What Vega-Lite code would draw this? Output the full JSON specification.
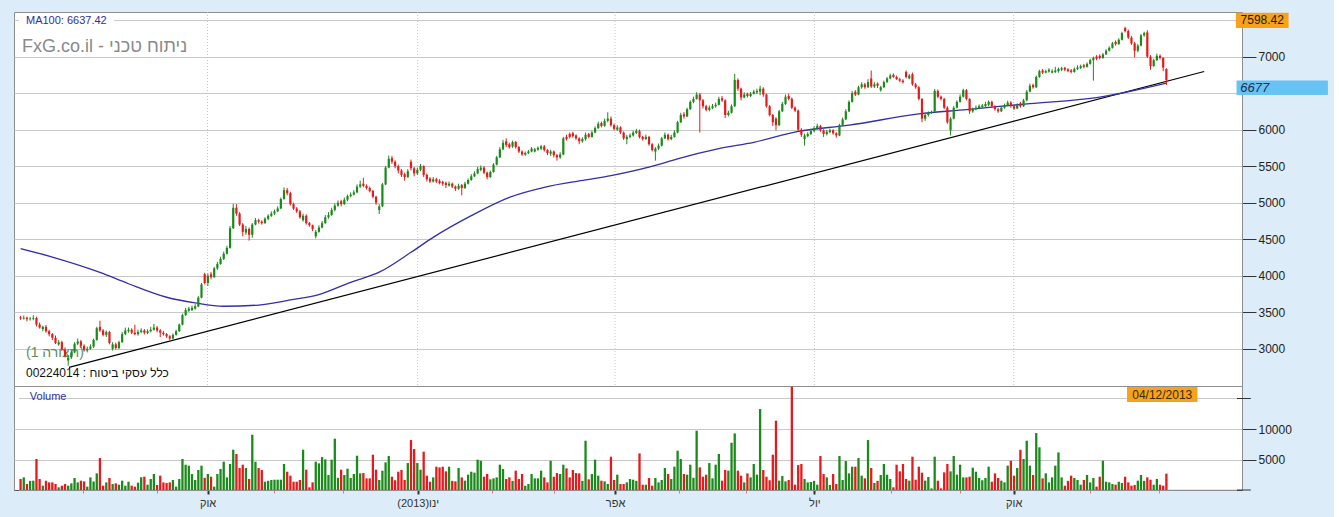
{
"$schema":"https://vega.github.io/schema/vega-lite/v6.json",
"background":"#dcedf9",
"padding":{"left":13,"top":11,"right":5,"bottom":8},
"spacing":0,
"bounds":"flush",
"config":{"view":{"fill":"#ffffff","stroke":"#8e8e8e","strokeWidth":1},"font":"Liberation Sans"},
"datasets":{
"bars":[
{"i":0,"o":3430,"h":3450,"l":3395,"c":3415,"v":1800},
{"i":1,"o":3415,"h":3455,"l":3400,"c":3425,"v":2070},
{"i":2,"o":3425,"h":3440,"l":3375,"c":3405,"v":980},
{"i":3,"o":3405,"h":3435,"l":3385,"c":3410,"v":1500},
{"i":4,"o":3410,"h":3460,"l":3390,"c":3420,"v":1530},
{"i":5,"o":3420,"h":3440,"l":3305,"c":3330,"v":5080},
{"i":6,"o":3330,"h":3360,"l":3275,"c":3290,"v":1800},
{"i":7,"o":3270,"h":3315,"l":3240,"c":3300,"v":710},
{"i":8,"o":3300,"h":3325,"l":3220,"c":3240,"v":1530},
{"i":9,"o":3240,"h":3260,"l":3170,"c":3200,"v":1250},
{"i":10,"o":3200,"h":3215,"l":3120,"c":3150,"v":1250},
{"i":11,"o":3150,"h":3180,"l":3065,"c":3080,"v":980},
{"i":12,"o":3060,"h":3120,"l":3040,"c":3090,"v":440},
{"i":13,"o":3090,"h":3110,"l":2970,"c":2990,"v":710},
{"i":14,"o":2990,"h":3020,"l":2880,"c":2900,"v":980},
{"i":15,"o":2840,"h":2910,"l":2770,"c":2880,"v":710},
{"i":16,"o":2880,"h":2975,"l":2860,"c":2950,"v":1090},
{"i":17,"o":2950,"h":3090,"l":2940,"c":3070,"v":1970},
{"i":18,"o":3070,"h":3140,"l":3050,"c":3100,"v":1250},
{"i":19,"o":3100,"h":3120,"l":3010,"c":3040,"v":1530},
{"i":20,"o":3040,"h":3060,"l":2960,"c":2980,"v":1420},
{"i":21,"o":2975,"h":3030,"l":2950,"c":3000,"v":550},
{"i":22,"o":3000,"h":3060,"l":2985,"c":3030,"v":2070},
{"i":23,"o":3030,"h":3140,"l":3010,"c":3120,"v":1400},
{"i":24,"o":3120,"h":3300,"l":3110,"c":3280,"v":2730},
{"i":25,"o":3300,"h":3384,"l":3230,"c":3250,"v":5240},
{"i":26,"o":3250,"h":3270,"l":3170,"c":3190,"v":710},
{"i":27,"o":3190,"h":3250,"l":3160,"c":3230,"v":1250},
{"i":28,"o":3230,"h":3245,"l":3060,"c":3080,"v":1970},
{"i":29,"o":3000,"h":3090,"l":2975,"c":3060,"v":980},
{"i":30,"o":3060,"h":3085,"l":2990,"c":3010,"v":1090},
{"i":31,"o":3010,"h":3110,"l":2995,"c":3090,"v":870},
{"i":32,"o":3090,"h":3230,"l":3080,"c":3200,"v":1530},
{"i":33,"o":3200,"h":3290,"l":3185,"c":3250,"v":710},
{"i":34,"o":3240,"h":3290,"l":3220,"c":3260,"v":1360},
{"i":35,"o":3260,"h":3280,"l":3200,"c":3220,"v":710},
{"i":36,"o":3220,"h":3330,"l":3185,"c":3200,"v":550},
{"i":37,"o":3200,"h":3260,"l":3180,"c":3230,"v":1200},
{"i":38,"o":3230,"h":3280,"l":3215,"c":3250,"v":2070},
{"i":39,"o":3250,"h":3270,"l":3195,"c":3220,"v":2180},
{"i":40,"o":3215,"h":3265,"l":3200,"c":3240,"v":870},
{"i":41,"o":3240,"h":3300,"l":3225,"c":3260,"v":1800},
{"i":42,"o":3260,"h":3340,"l":3250,"c":3290,"v":2620},
{"i":43,"o":3290,"h":3310,"l":3225,"c":3250,"v":820},
{"i":44,"o":3250,"h":3270,"l":3160,"c":3220,"v":2350},
{"i":45,"o":3220,"h":3245,"l":3180,"c":3200,"v":1250},
{"i":46,"o":3200,"h":3215,"l":3150,"c":3170,"v":1150},
{"i":47,"o":3170,"h":3185,"l":3120,"c":3140,"v":1250},
{"i":48,"o":3140,"h":3210,"l":3130,"c":3190,"v":1640},
{"i":49,"o":3190,"h":3260,"l":3180,"c":3240,"v":550},
{"i":50,"o":3240,"h":3345,"l":3230,"c":3330,"v":1800},
{"i":51,"o":3330,"h":3480,"l":3320,"c":3460,"v":5080},
{"i":52,"o":3460,"h":3560,"l":3450,"c":3530,"v":4150},
{"i":53,"o":3520,"h":3575,"l":3505,"c":3550,"v":3990},
{"i":54,"o":3530,"h":3590,"l":3515,"c":3560,"v":2620},
{"i":55,"o":3550,"h":3610,"l":3535,"c":3580,"v":1640},
{"i":56,"o":3580,"h":3720,"l":3570,"c":3700,"v":3280},
{"i":57,"o":3700,"h":3900,"l":3690,"c":3880,"v":3990},
{"i":58,"o":4020,"h":4040,"l":3880,"c":3900,"v":2000},
{"i":59,"o":3900,"h":4030,"l":3860,"c":4000,"v":2620},
{"i":60,"o":4020,"h":4050,"l":3950,"c":3980,"v":2180},
{"i":61,"o":3980,"h":4120,"l":3970,"c":4100,"v":550},
{"i":62,"o":4100,"h":4190,"l":4080,"c":4160,"v":2620},
{"i":63,"o":4160,"h":4260,"l":4150,"c":4230,"v":3440},
{"i":64,"o":4230,"h":4330,"l":4215,"c":4300,"v":4640},
{"i":65,"o":4300,"h":4410,"l":4290,"c":4380,"v":2070},
{"i":66,"o":4380,"h":4680,"l":4370,"c":4650,"v":4260},
{"i":67,"o":4650,"h":4985,"l":4640,"c":4930,"v":6600},
{"i":68,"o":4930,"h":4980,"l":4820,"c":4850,"v":5900},
{"i":69,"o":4850,"h":4870,"l":4680,"c":4700,"v":3600},
{"i":70,"o":4700,"h":4720,"l":4540,"c":4600,"v":4150},
{"i":71,"o":4590,"h":4680,"l":4560,"c":4640,"v":3600},
{"i":72,"o":4640,"h":4660,"l":4480,"c":4560,"v":1800},
{"i":73,"o":4560,"h":4720,"l":4520,"c":4700,"v":9060},
{"i":74,"o":4700,"h":4790,"l":4690,"c":4760,"v":4640},
{"i":75,"o":4760,"h":4780,"l":4715,"c":4740,"v":3600},
{"i":76,"o":4740,"h":4760,"l":4700,"c":4720,"v":3280},
{"i":77,"o":4720,"h":4800,"l":4710,"c":4780,"v":1360},
{"i":78,"o":4780,"h":4840,"l":4760,"c":4820,"v":1500},
{"i":79,"o":4820,"h":4880,"l":4805,"c":4850,"v":1640},
{"i":80,"o":4850,"h":4905,"l":4830,"c":4880,"v":1690},
{"i":81,"o":4880,"h":4950,"l":4870,"c":4920,"v":1690},
{"i":82,"o":4920,"h":5070,"l":4910,"c":5050,"v":1690},
{"i":83,"o":5050,"h":5210,"l":5040,"c":5170,"v":4260},
{"i":84,"o":5170,"h":5200,"l":5100,"c":5130,"v":3000},
{"i":85,"o":5130,"h":5150,"l":4960,"c":4980,"v":2350},
{"i":86,"o":4980,"h":5000,"l":4900,"c":4920,"v":1360},
{"i":87,"o":4920,"h":4940,"l":4860,"c":4880,"v":1360},
{"i":88,"o":4880,"h":4900,"l":4780,"c":4800,"v":1640},
{"i":89,"o":4760,"h":4850,"l":4740,"c":4820,"v":6600},
{"i":90,"o":4820,"h":4840,"l":4700,"c":4720,"v":3330},
{"i":91,"o":4720,"h":4735,"l":4670,"c":4690,"v":440},
{"i":92,"o":4690,"h":4700,"l":4610,"c":4640,"v":1250},
{"i":93,"o":4540,"h":4625,"l":4510,"c":4600,"v":4640},
{"i":94,"o":4600,"h":4690,"l":4590,"c":4660,"v":4370},
{"i":95,"o":4660,"h":4750,"l":4650,"c":4720,"v":5400},
{"i":96,"o":4720,"h":4830,"l":4710,"c":4800,"v":5020},
{"i":97,"o":4800,"h":4870,"l":4780,"c":4830,"v":2460},
{"i":98,"o":4830,"h":4930,"l":4820,"c":4900,"v":4970},
{"i":99,"o":4900,"h":4990,"l":4880,"c":4960,"v":8410},
{"i":100,"o":4960,"h":5030,"l":4945,"c":5000,"v":2000},
{"i":101,"o":5020,"h":5040,"l":4950,"c":4980,"v":3330},
{"i":102,"o":4980,"h":5070,"l":4970,"c":5040,"v":2460},
{"i":103,"o":5040,"h":5110,"l":5020,"c":5090,"v":3490},
{"i":104,"o":5090,"h":5140,"l":5075,"c":5110,"v":1970},
{"i":105,"o":5110,"h":5170,"l":5100,"c":5140,"v":2620},
{"i":106,"o":5140,"h":5250,"l":5130,"c":5220,"v":5620},
{"i":107,"o":5220,"h":5300,"l":5200,"c":5250,"v":2730},
{"i":108,"o":5260,"h":5340,"l":5210,"c":5230,"v":2780},
{"i":109,"o":5230,"h":5250,"l":5180,"c":5200,"v":1910},
{"i":110,"o":5200,"h":5220,"l":5140,"c":5160,"v":1910},
{"i":111,"o":5160,"h":5175,"l":5060,"c":5080,"v":5790},
{"i":112,"o":5080,"h":5095,"l":4970,"c":5000,"v":3330},
{"i":113,"o":4900,"h":4980,"l":4845,"c":4950,"v":1640},
{"i":114,"o":4950,"h":5270,"l":4940,"c":5250,"v":3170},
{"i":115,"o":5250,"h":5500,"l":5240,"c":5480,"v":4530},
{"i":116,"o":5480,"h":5645,"l":5470,"c":5600,"v":5570},
{"i":117,"o":5610,"h":5640,"l":5530,"c":5560,"v":2180},
{"i":118,"o":5560,"h":5580,"l":5470,"c":5500,"v":1600},
{"i":119,"o":5500,"h":5520,"l":5400,"c":5440,"v":3000},
{"i":120,"o":5440,"h":5460,"l":5350,"c":5380,"v":3280},
{"i":121,"o":5390,"h":5410,"l":5300,"c":5350,"v":1640},
{"i":122,"o":5350,"h":5460,"l":5340,"c":5430,"v":4420},
{"i":123,"o":5560,"h":5590,"l":5440,"c":5470,"v":8190},
{"i":124,"o":5470,"h":5490,"l":5360,"c":5400,"v":6720},
{"i":125,"o":5400,"h":5480,"l":5380,"c":5450,"v":4420},
{"i":126,"o":5450,"h":5530,"l":5430,"c":5500,"v":3330},
{"i":127,"o":5500,"h":5510,"l":5350,"c":5380,"v":6280},
{"i":128,"o":5380,"h":5400,"l":5290,"c":5320,"v":2350},
{"i":129,"o":5330,"h":5350,"l":5270,"c":5290,"v":1360},
{"i":130,"o":5290,"h":5350,"l":5275,"c":5320,"v":2070},
{"i":131,"o":5320,"h":5340,"l":5270,"c":5290,"v":3820},
{"i":132,"o":5300,"h":5320,"l":5250,"c":5270,"v":3710},
{"i":133,"o":5285,"h":5300,"l":5230,"c":5260,"v":3820},
{"i":134,"o":5270,"h":5290,"l":5200,"c":5240,"v":3060},
{"i":135,"o":5235,"h":5290,"l":5220,"c":5260,"v":3820},
{"i":136,"o":5260,"h":5275,"l":5200,"c":5220,"v":1500},
{"i":137,"o":5220,"h":5235,"l":5160,"c":5190,"v":1420},
{"i":138,"o":5190,"h":5260,"l":5175,"c":5230,"v":3600},
{"i":139,"o":5240,"h":5255,"l":5100,"c":5200,"v":2070},
{"i":140,"o":5200,"h":5285,"l":5190,"c":5260,"v":1530},
{"i":141,"o":5260,"h":5330,"l":5250,"c":5310,"v":2510},
{"i":142,"o":5310,"h":5390,"l":5300,"c":5360,"v":3000},
{"i":143,"o":5360,"h":5430,"l":5350,"c":5400,"v":2840},
{"i":144,"o":5400,"h":5490,"l":5390,"c":5460,"v":4970},
{"i":145,"o":5450,"h":5510,"l":5430,"c":5480,"v":4800},
{"i":146,"o":5480,"h":5500,"l":5390,"c":5410,"v":2180},
{"i":147,"o":5410,"h":5425,"l":5320,"c":5350,"v":2620},
{"i":148,"o":5350,"h":5440,"l":5340,"c":5420,"v":1750},
{"i":149,"o":5420,"h":5540,"l":5410,"c":5520,"v":1910},
{"i":150,"o":5520,"h":5640,"l":5510,"c":5620,"v":2070},
{"i":151,"o":5620,"h":5760,"l":5610,"c":5730,"v":4150},
{"i":152,"o":5730,"h":5860,"l":5720,"c":5820,"v":3440},
{"i":153,"o":5840,"h":5880,"l":5760,"c":5790,"v":1800},
{"i":154,"o":5800,"h":5820,"l":5740,"c":5760,"v":2070},
{"i":155,"o":5770,"h":5850,"l":5750,"c":5830,"v":1500},
{"i":156,"o":5830,"h":5845,"l":5740,"c":5760,"v":3170},
{"i":157,"o":5760,"h":5775,"l":5680,"c":5700,"v":1800},
{"i":158,"o":5700,"h":5715,"l":5640,"c":5660,"v":2620},
{"i":159,"o":5660,"h":5700,"l":5640,"c":5680,"v":710},
{"i":160,"o":5680,"h":5720,"l":5665,"c":5700,"v":980},
{"i":161,"o":5700,"h":5760,"l":5690,"c":5740,"v":2620},
{"i":162,"o":5700,"h":5750,"l":5690,"c":5730,"v":1910},
{"i":163,"o":5725,"h":5770,"l":5710,"c":5750,"v":1910},
{"i":164,"o":5740,"h":5790,"l":5720,"c":5770,"v":3170},
{"i":165,"o":5770,"h":5790,"l":5700,"c":5720,"v":2070},
{"i":166,"o":5720,"h":5735,"l":5650,"c":5680,"v":1250},
{"i":167,"o":5670,"h":5725,"l":5640,"c":5700,"v":4800},
{"i":168,"o":5700,"h":5715,"l":5620,"c":5650,"v":2180},
{"i":169,"o":5650,"h":5665,"l":5575,"c":5620,"v":2780},
{"i":170,"o":5620,"h":5690,"l":5600,"c":5660,"v":2620},
{"i":171,"o":5660,"h":5900,"l":5650,"c":5880,"v":4150},
{"i":172,"o":5900,"h":5930,"l":5850,"c":5870,"v":3550},
{"i":173,"o":5940,"h":5960,"l":5880,"c":5900,"v":2070},
{"i":174,"o":5950,"h":5970,"l":5890,"c":5910,"v":3280},
{"i":175,"o":5920,"h":5935,"l":5860,"c":5880,"v":2780},
{"i":176,"o":5880,"h":5895,"l":5800,"c":5840,"v":2730},
{"i":177,"o":5840,"h":5895,"l":5820,"c":5870,"v":1500},
{"i":178,"o":5870,"h":5960,"l":5850,"c":5930,"v":8080},
{"i":179,"o":5940,"h":5955,"l":5880,"c":5900,"v":1750},
{"i":180,"o":5900,"h":5985,"l":5890,"c":5960,"v":2620},
{"i":181,"o":5960,"h":6045,"l":5950,"c":6020,"v":4970},
{"i":182,"o":6020,"h":6110,"l":6010,"c":6080,"v":2350},
{"i":183,"o":6090,"h":6110,"l":6030,"c":6050,"v":1530},
{"i":184,"o":6050,"h":6150,"l":6040,"c":6120,"v":1420},
{"i":185,"o":6120,"h":6237,"l":6100,"c":6150,"v":980},
{"i":186,"o":6150,"h":6180,"l":6040,"c":6060,"v":5460},
{"i":187,"o":6060,"h":6080,"l":5990,"c":6010,"v":1640},
{"i":188,"o":6000,"h":6060,"l":5985,"c":6030,"v":2510},
{"i":189,"o":6030,"h":6045,"l":5940,"c":5960,"v":980},
{"i":190,"o":5960,"h":5975,"l":5860,"c":5880,"v":980},
{"i":191,"o":5870,"h":5925,"l":5800,"c":5900,"v":1250},
{"i":192,"o":5900,"h":5945,"l":5880,"c":5920,"v":1800},
{"i":193,"o":5920,"h":5985,"l":5905,"c":5960,"v":1690},
{"i":194,"o":5955,"h":6010,"l":5940,"c":5980,"v":1500},
{"i":195,"o":5980,"h":6000,"l":5880,"c":5900,"v":6000},
{"i":196,"o":5900,"h":5915,"l":5850,"c":5870,"v":870},
{"i":197,"o":5870,"h":5930,"l":5860,"c":5900,"v":870},
{"i":198,"o":5900,"h":5915,"l":5780,"c":5800,"v":1970},
{"i":199,"o":5800,"h":5815,"l":5700,"c":5720,"v":710},
{"i":200,"o":5700,"h":5760,"l":5575,"c":5740,"v":1970},
{"i":201,"o":5740,"h":5810,"l":5720,"c":5780,"v":1250},
{"i":202,"o":5780,"h":5900,"l":5770,"c":5880,"v":1640},
{"i":203,"o":5880,"h":5960,"l":5870,"c":5930,"v":3600},
{"i":204,"o":5930,"h":5945,"l":5850,"c":5870,"v":2620},
{"i":205,"o":5870,"h":5930,"l":5855,"c":5900,"v":1800},
{"i":206,"o":5900,"h":5990,"l":5890,"c":5960,"v":3820},
{"i":207,"o":5960,"h":6120,"l":5950,"c":6100,"v":6440},
{"i":208,"o":6100,"h":6230,"l":6090,"c":6200,"v":5080},
{"i":209,"o":6210,"h":6240,"l":6150,"c":6180,"v":2620},
{"i":210,"o":6180,"h":6300,"l":6170,"c":6280,"v":2510},
{"i":211,"o":6280,"h":6400,"l":6270,"c":6380,"v":4150},
{"i":212,"o":6380,"h":6450,"l":6360,"c":6420,"v":2000},
{"i":213,"o":6420,"h":6511,"l":6410,"c":6480,"v":9720},
{"i":214,"o":6480,"h":6500,"l":5960,"c":6400,"v":3710},
{"i":215,"o":6400,"h":6420,"l":6290,"c":6320,"v":2180},
{"i":216,"o":6320,"h":6340,"l":6250,"c":6270,"v":2510},
{"i":217,"o":6270,"h":6330,"l":6250,"c":6300,"v":4420},
{"i":218,"o":6295,"h":6350,"l":6280,"c":6320,"v":1910},
{"i":219,"o":6320,"h":6370,"l":6300,"c":6340,"v":4150},
{"i":220,"o":6340,"h":6450,"l":6330,"c":6420,"v":5900},
{"i":221,"o":6430,"h":6460,"l":6380,"c":6400,"v":1530},
{"i":222,"o":6400,"h":6415,"l":6160,"c":6200,"v":3280},
{"i":223,"o":6200,"h":6260,"l":6180,"c":6230,"v":3170},
{"i":224,"o":6230,"h":6345,"l":6220,"c":6320,"v":7750},
{"i":225,"o":6320,"h":6763,"l":6310,"c":6680,"v":9280},
{"i":226,"o":6680,"h":6700,"l":6530,"c":6560,"v":3170},
{"i":227,"o":6560,"h":6575,"l":6400,"c":6440,"v":2350},
{"i":228,"o":6440,"h":6510,"l":6430,"c":6480,"v":1250},
{"i":229,"o":6490,"h":6505,"l":6440,"c":6460,"v":2730},
{"i":230,"o":6460,"h":6515,"l":6445,"c":6490,"v":2070},
{"i":231,"o":6490,"h":6545,"l":6480,"c":6520,"v":4260},
{"i":232,"o":6510,"h":6560,"l":6490,"c":6530,"v":2510},
{"i":233,"o":6520,"h":6600,"l":6470,"c":6560,"v":13270},
{"i":234,"o":6560,"h":6580,"l":6450,"c":6480,"v":3280},
{"i":235,"o":6480,"h":6495,"l":6300,"c":6320,"v":2180},
{"i":236,"o":6320,"h":6335,"l":6180,"c":6200,"v":1600},
{"i":237,"o":6200,"h":6215,"l":6050,"c":6100,"v":5790},
{"i":238,"o":6150,"h":6170,"l":5990,"c":6060,"v":11360},
{"i":239,"o":6060,"h":6270,"l":6050,"c":6250,"v":1530},
{"i":240,"o":6250,"h":6380,"l":6240,"c":6350,"v":2290},
{"i":241,"o":6350,"h":6480,"l":6340,"c":6450,"v":1420},
{"i":242,"o":6460,"h":6490,"l":6400,"c":6420,"v":1640},
{"i":243,"o":6420,"h":6440,"l":6280,"c":6300,"v":16930},
{"i":244,"o":6300,"h":6320,"l":6240,"c":6260,"v":870},
{"i":245,"o":6260,"h":6275,"l":5980,"c":6000,"v":4100},
{"i":246,"o":6000,"h":6020,"l":5900,"c":5930,"v":4260},
{"i":247,"o":5870,"h":5945,"l":5781,"c":5920,"v":1800},
{"i":248,"o":5910,"h":5965,"l":5895,"c":5940,"v":1250},
{"i":249,"o":5940,"h":6010,"l":5925,"c":5980,"v":1310},
{"i":250,"o":5980,"h":6045,"l":5965,"c":6020,"v":1500},
{"i":251,"o":6020,"h":6080,"l":6000,"c":6050,"v":870},
{"i":252,"o":6050,"h":6065,"l":5970,"c":5990,"v":5570},
{"i":253,"o":5990,"h":6005,"l":5900,"c":5940,"v":2620},
{"i":254,"o":5940,"h":5995,"l":5920,"c":5970,"v":2070},
{"i":255,"o":5965,"h":6015,"l":5950,"c":5990,"v":820},
{"i":256,"o":5990,"h":6005,"l":5930,"c":5950,"v":2620},
{"i":257,"o":5950,"h":5965,"l":5890,"c":5920,"v":980},
{"i":258,"o":5920,"h":6080,"l":5910,"c":6060,"v":5570},
{"i":259,"o":6060,"h":6165,"l":6050,"c":6140,"v":1640},
{"i":260,"o":6140,"h":6280,"l":6130,"c":6250,"v":4750},
{"i":261,"o":6250,"h":6400,"l":6240,"c":6380,"v":2730},
{"i":262,"o":6380,"h":6530,"l":6370,"c":6500,"v":3820},
{"i":263,"o":6520,"h":6540,"l":6460,"c":6480,"v":3820},
{"i":264,"o":6480,"h":6600,"l":6470,"c":6580,"v":5240},
{"i":265,"o":6580,"h":6650,"l":6560,"c":6620,"v":2350},
{"i":266,"o":6620,"h":6640,"l":6560,"c":6580,"v":1910},
{"i":267,"o":6580,"h":6690,"l":6570,"c":6650,"v":8190},
{"i":268,"o":6700,"h":6808,"l":6570,"c":6590,"v":3600},
{"i":269,"o":6590,"h":6650,"l":6570,"c":6620,"v":1150},
{"i":270,"o":6630,"h":6645,"l":6570,"c":6600,"v":1500},
{"i":271,"o":6540,"h":6600,"l":6520,"c":6580,"v":2460},
{"i":272,"o":6580,"h":6670,"l":6570,"c":6650,"v":4260},
{"i":273,"o":6650,"h":6720,"l":6640,"c":6700,"v":2510},
{"i":274,"o":6700,"h":6765,"l":6690,"c":6740,"v":1800},
{"i":275,"o":6750,"h":6770,"l":6710,"c":6720,"v":440},
{"i":276,"o":6720,"h":6740,"l":6680,"c":6690,"v":4150},
{"i":277,"o":6690,"h":6710,"l":6650,"c":6670,"v":3060},
{"i":278,"o":6670,"h":6690,"l":6630,"c":6650,"v":4260},
{"i":279,"o":6790,"h":6810,"l":6700,"c":6720,"v":1800},
{"i":280,"o":6700,"h":6760,"l":6690,"c":6740,"v":1530},
{"i":281,"o":6760,"h":6780,"l":6600,"c":6620,"v":5460},
{"i":282,"o":6620,"h":6640,"l":6560,"c":6580,"v":1690},
{"i":283,"o":6580,"h":6595,"l":6400,"c":6420,"v":3820},
{"i":284,"o":6420,"h":6430,"l":6100,"c":6150,"v":2840},
{"i":285,"o":6150,"h":6230,"l":6120,"c":6200,"v":1530},
{"i":286,"o":6200,"h":6250,"l":6180,"c":6230,"v":2130},
{"i":287,"o":6230,"h":6260,"l":6215,"c":6240,"v":270},
{"i":288,"o":6250,"h":6557,"l":6240,"c":6530,"v":5460},
{"i":289,"o":6530,"h":6550,"l":6430,"c":6450,"v":1530},
{"i":290,"o":6450,"h":6465,"l":6400,"c":6420,"v":270},
{"i":291,"o":6420,"h":6435,"l":6280,"c":6300,"v":2890},
{"i":292,"o":6300,"h":6320,"l":6080,"c":6100,"v":4260},
{"i":293,"o":5990,"h":6170,"l":5920,"c":6150,"v":3060},
{"i":294,"o":6150,"h":6320,"l":6140,"c":6300,"v":5570},
{"i":295,"o":6300,"h":6400,"l":6290,"c":6380,"v":2510},
{"i":296,"o":6380,"h":6480,"l":6370,"c":6450,"v":4150},
{"i":297,"o":6450,"h":6560,"l":6440,"c":6540,"v":2070},
{"i":298,"o":6540,"h":6555,"l":6400,"c":6420,"v":2070},
{"i":299,"o":6420,"h":6430,"l":6215,"c":6250,"v":2180},
{"i":300,"o":6250,"h":6300,"l":6230,"c":6280,"v":3660},
{"i":301,"o":6280,"h":6330,"l":6265,"c":6300,"v":3000},
{"i":302,"o":6295,"h":6345,"l":6280,"c":6320,"v":1970},
{"i":303,"o":6310,"h":6350,"l":6290,"c":6330,"v":1600},
{"i":304,"o":6320,"h":6380,"l":6300,"c":6350,"v":1970},
{"i":305,"o":6340,"h":6400,"l":6320,"c":6380,"v":3820},
{"i":306,"o":6380,"h":6395,"l":6300,"c":6320,"v":1360},
{"i":307,"o":6320,"h":6335,"l":6260,"c":6280,"v":2730},
{"i":308,"o":6280,"h":6295,"l":6230,"c":6250,"v":1970},
{"i":309,"o":6250,"h":6325,"l":6240,"c":6300,"v":1530},
{"i":310,"o":6300,"h":6355,"l":6285,"c":6330,"v":1250},
{"i":311,"o":6330,"h":6395,"l":6320,"c":6370,"v":3990},
{"i":312,"o":6370,"h":6390,"l":6300,"c":6320,"v":4800},
{"i":313,"o":6320,"h":6340,"l":6270,"c":6290,"v":2350},
{"i":314,"o":6290,"h":6360,"l":6280,"c":6340,"v":3600},
{"i":315,"o":6360,"h":6380,"l":6300,"c":6320,"v":6600},
{"i":316,"o":6320,"h":6420,"l":6310,"c":6400,"v":5080},
{"i":317,"o":6400,"h":6540,"l":6390,"c":6520,"v":8080},
{"i":318,"o":6520,"h":6630,"l":6510,"c":6600,"v":3990},
{"i":319,"o":6610,"h":6630,"l":6560,"c":6580,"v":2460},
{"i":320,"o":6580,"h":6740,"l":6570,"c":6720,"v":9340},
{"i":321,"o":6720,"h":6820,"l":6710,"c":6800,"v":7000},
{"i":322,"o":6810,"h":6830,"l":6760,"c":6780,"v":1910},
{"i":323,"o":6780,"h":6820,"l":6770,"c":6800,"v":2730},
{"i":324,"o":6795,"h":6840,"l":6780,"c":6820,"v":1250},
{"i":325,"o":6780,"h":6825,"l":6770,"c":6800,"v":2070},
{"i":326,"o":6790,"h":6860,"l":6775,"c":6810,"v":3990},
{"i":327,"o":6800,"h":6850,"l":6780,"c":6830,"v":6170},
{"i":328,"o":6820,"h":6860,"l":6800,"c":6840,"v":2070},
{"i":329,"o":6845,"h":6860,"l":6800,"c":6820,"v":710},
{"i":330,"o":6825,"h":6840,"l":6785,"c":6800,"v":1500},
{"i":331,"o":6810,"h":6830,"l":6770,"c":6790,"v":2350},
{"i":332,"o":6790,"h":6850,"l":6780,"c":6830,"v":1970},
{"i":333,"o":6830,"h":6880,"l":6815,"c":6850,"v":1640},
{"i":334,"o":6845,"h":6890,"l":6830,"c":6870,"v":870},
{"i":335,"o":6880,"h":6900,"l":6840,"c":6860,"v":1640},
{"i":336,"o":6860,"h":6920,"l":6850,"c":6900,"v":2460},
{"i":337,"o":6900,"h":6970,"l":6890,"c":6950,"v":1250},
{"i":338,"o":6950,"h":7000,"l":6671,"c":6980,"v":1970},
{"i":339,"o":7000,"h":7020,"l":6950,"c":6970,"v":550},
{"i":340,"o":7010,"h":7030,"l":6960,"c":6980,"v":2180},
{"i":341,"o":6980,"h":7050,"l":6970,"c":7030,"v":4800},
{"i":342,"o":7030,"h":7100,"l":7020,"c":7080,"v":1360},
{"i":343,"o":7080,"h":7140,"l":7070,"c":7120,"v":1250},
{"i":344,"o":7120,"h":7200,"l":7110,"c":7180,"v":980},
{"i":345,"o":7200,"h":7220,"l":7150,"c":7170,"v":870},
{"i":346,"o":7170,"h":7250,"l":7160,"c":7230,"v":1360},
{"i":347,"o":7230,"h":7340,"l":7220,"c":7320,"v":1150},
{"i":348,"o":7390,"h":7410,"l":7330,"c":7350,"v":2180},
{"i":349,"o":7350,"h":7370,"l":7240,"c":7260,"v":1250},
{"i":350,"o":7260,"h":7280,"l":7160,"c":7180,"v":710},
{"i":351,"o":7180,"h":7200,"l":6990,"c":7080,"v":820},
{"i":352,"o":7080,"h":7170,"l":7060,"c":7150,"v":1530},
{"i":353,"o":7150,"h":7310,"l":7140,"c":7290,"v":2460},
{"i":354,"o":7290,"h":7340,"l":7270,"c":7320,"v":1500},
{"i":355,"o":7330,"h":7360,"l":6980,"c":7000,"v":2070},
{"i":356,"o":7000,"h":7020,"l":6820,"c":6870,"v":1690},
{"i":357,"o":6870,"h":6970,"l":6860,"c":6950,"v":870},
{"i":358,"o":6950,"h":7040,"l":6940,"c":7010,"v":1800},
{"i":359,"o":7010,"h":7030,"l":6960,"c":6980,"v":870},
{"i":360,"o":6980,"h":6990,"l":6800,"c":6850,"v":710},
{"i":361,"o":6830,"h":6840,"l":6610,"c":6677,"v":2680}
],
"ma":[
{"i":0,"ma":4370},{"i":10,"ma":4255},{"i":25,"ma":4045},{"i":34,"ma":3890},{"i":46,"ma":3705},{"i":55,"ma":3628},{"i":64,"ma":3582},{"i":75,"ma":3598},{"i":85,"ma":3668},{"i":94,"ma":3742},{"i":104,"ma":3910},{"i":113,"ma":4048},{"i":123,"ma":4320},{"i":130,"ma":4525},{"i":142,"ma":4822},{"i":154,"ma":5073},{"i":165,"ma":5210},{"i":178,"ma":5311},{"i":186,"ma":5370},{"i":202,"ma":5534},{"i":207,"ma":5600},{"i":220,"ma":5740},{"i":231,"ma":5826},{"i":245,"ma":5975},{"i":261,"ma":6060},{"i":283,"ma":6215},{"i":298,"ma":6274},{"i":318,"ma":6356},{"i":339,"ma":6438},{"i":361,"ma":6637}
],
"trend":[{"i":15.25,"p":2745},{"i":372.9,"p":6795}],
"quarters":[{"q":58.9},{"q":125.1},{"q":187.3},{"q":250.1},{"q":312.9}],
"vticks":[{"v":0},{"v":15000}]
},
"vconcat":[
{
"width":1228,"height":374,
"layer":[
{"data":{"name":"quarters"},
 "mark":{"type":"rule","color":"#c4c4c4","strokeWidth":1,"strokeDash":[1,2]},
 "encoding":{
  "x":{"field":"q","type":"quantitative","title":null,"scale":{"domain":[-0.5,383.25],"nice":false,"zero":false},"axis":null}}},
{"data":{"values":[{"x1":-0.5,"x2":29.5,"y1":7400,"y2":7575}]},
 "mark":{"type":"rect","fill":"#ffffff"},
 "encoding":{
  "x":{"field":"x1","type":"quantitative","title":null},
  "x2":{"field":"x2"},
  "y":{"field":"y1","type":"quantitative","title":null,"scale":{"domain":[2490,7610],"nice":false,"zero":false},
       "axis":{"orient":"right","values":[3000,3500,4000,4500,5000,5500,6000,6500,7000,7500],"format":"d","labelExpr":"datum.value == 7500 || datum.value == 6500 ? '' : datum.label","grid":true,"gridColor":"#c8c8c8","tickSize":14,"tickColor":"#333333","domainColor":"#8e8e8e","labelColor":"#222222","labelFontSize":12,"labelPadding":2,"title":null}},
  "y2":{"field":"y2"}}},
{"data":{"values":[{"x":0.45,"y":7137,"t":"FxG.co.il - ניתוח טכני"}]},
 "mark":{"type":"text","align":"left","baseline":"middle","fontSize":18,"fill":"#8a8a8a"},
 "encoding":{"x":{"field":"x","type":"quantitative","title":null},"y":{"field":"y","type":"quantitative","title":null},"text":{"field":"t"}}},
{"data":{"values":[{"x":1.7,"y":7493,"t":"MA100: 6637.42"}]},
 "mark":{"type":"text","align":"left","baseline":"middle","fontSize":11,"fill":"#2e2e9e"},
 "encoding":{"x":{"field":"x","type":"quantitative","title":null},"y":{"field":"y","type":"quantitative","title":null},"text":{"field":"t"}}},
{"data":{"values":[{"x":1.7,"y":2945,"t":"(1 תצורה)"}]},
 "mark":{"type":"text","align":"left","baseline":"middle","fontSize":14,"fill":"#5b8f5b"},
 "encoding":{"x":{"field":"x","type":"quantitative","title":null},"y":{"field":"y","type":"quantitative","title":null},"text":{"field":"t"}}},
{"data":{"values":[{"x":1.7,"y":2671,"t":"00224014 : כלל עסקי ביטוח"}]},
 "mark":{"type":"text","align":"left","baseline":"middle","fontSize":12,"fill":"#111111"},
 "encoding":{"x":{"field":"x","type":"quantitative","title":null},"y":{"field":"y","type":"quantitative","title":null},"text":{"field":"t"}}},
{"data":{"name":"trend"},
 "mark":{"type":"line","color":"#000000","strokeWidth":1.2},
 "encoding":{"x":{"field":"i","type":"quantitative","title":null},"y":{"field":"p","type":"quantitative","title":null}}},
{"data":{"name":"ma"},
 "mark":{"type":"line","color":"#3030a8","strokeWidth":1.3,"interpolate":"monotone"},
 "encoding":{"x":{"field":"i","type":"quantitative","title":null},"y":{"field":"ma","type":"quantitative","title":null}}},
{"data":{"name":"bars"},
 "mark":{"type":"rule","strokeWidth":1},
 "encoding":{"x":{"field":"i","type":"quantitative","title":null},"y":{"field":"l","type":"quantitative","title":null},"y2":{"field":"h"},
  "color":{"condition":{"test":"datum.c >= datum.o","value":"#1a8a1a"},"value":"#e8191b"}}},
{"data":{"name":"bars"},
 "mark":{"type":"bar","width":2.2},
 "encoding":{"x":{"field":"i","type":"quantitative","title":null},"y":{"field":"o","type":"quantitative","title":null},"y2":{"field":"c"},
  "color":{"condition":{"test":"datum.c >= datum.o","value":"#1a8a1a"},"value":"#e8191b"}}},
{"data":{"values":[{"x1":382.9,"x2":399.5,"y1":7392,"y2":7600}]},
 "mark":{"type":"rect","fill":"#f7a21c"},
 "encoding":{"x":{"field":"x1","type":"quantitative","title":null},"x2":{"field":"x2"},"y":{"field":"y1","type":"quantitative","title":null},"y2":{"field":"y2"}}},
{"data":{"values":[{"x":391.2,"y":7496,"t":"7598.42"}]},
 "mark":{"type":"text","align":"center","baseline":"middle","fontSize":12,"fill":"#2a1a00"},
 "encoding":{"x":{"field":"x","type":"quantitative","title":null},"y":{"field":"y","type":"quantitative","title":null},"text":{"field":"t"}}},
{"data":{"values":[{"x1":383.1,"x2":411.9,"y1":6475,"y2":6671}]},
 "mark":{"type":"rect","fill":"#68c3f5"},
 "encoding":{"x":{"field":"x1","type":"quantitative","title":null},"x2":{"field":"x2"},"y":{"field":"y1","type":"quantitative","title":null},"y2":{"field":"y2"}}},
{"data":{"values":[{"x":384.3,"y":6573,"t":"6677"}]},
 "mark":{"type":"text","align":"left","baseline":"middle","fontSize":13,"fontStyle":"italic","fill":"#1b2d4f"},
 "encoding":{"x":{"field":"x","type":"quantitative","title":null},"y":{"field":"y","type":"quantitative","title":null},"text":{"field":"t"}}}
]
},
{
"width":1228,"height":104,
"layer":[
{"data":{"name":"vticks"},
 "mark":{"type":"rule","color":"#c8c8c8","strokeWidth":1},
 "encoding":{
  "x":{"datum":-0.5,"type":"quantitative","title":null,"scale":{"domain":[-0.5,383.25],"nice":false,"zero":false},
       "axis":{"values":[19.8,42.9,58.9,79.8,101.7,125.1,148.5,168.2,187.3,207.3,228.6,250.1,274.2,296.1,312.9,337,358.6],
               "labelExpr":"datum.value==58.9||datum.value==312.9?'אוק':datum.value==125.1?'(2013)ינו':datum.value==187.3?'אפר':datum.value==250.1?'יול':''",
               "tickSize":{"condition":{"test":"indexof([58.9,125.1,187.3,250.1,312.9], datum.value) >= 0","value":4},"value":3},
               "tickColor":{"condition":{"test":"indexof([58.9,125.1,187.3,250.1,312.9], datum.value) >= 0","value":"#333333"},"value":"#e07a7a"},
               "tickWidth":{"condition":{"test":"indexof([58.9,125.1,187.3,250.1,312.9], datum.value) >= 0","value":2},"value":1},
               "grid":false,"domainColor":"#555555","labelColor":"#333333","labelFontSize":11,"labelPadding":3,"title":null}},
  "x2":{"datum":383.25},
  "y":{"field":"v","type":"quantitative","title":null,"scale":{"domain":[0,17050],"nice":false},
       "axis":{"orient":"right","values":[5000,10000],"format":"d","grid":true,"gridColor":"#c8c8c8","tickSize":14,"tickColor":"#333333","domainColor":"#8e8e8e","labelColor":"#222222","labelFontSize":12,"labelPadding":2,"title":null}}}},
{"data":{"name":"vticks"},
 "mark":{"type":"rule","color":"#333333","strokeWidth":1},
 "encoding":{"x":{"datum":383.25,"type":"quantitative"},"x2":{"datum":387.6},"y":{"field":"v","type":"quantitative","title":null}}},
{"data":{"name":"bars"},
 "mark":{"type":"bar","width":2.3},
 "encoding":{
  "x":{"field":"i","type":"quantitative","title":null},
  "y":{"field":"v","type":"quantitative","title":null},
  "color":{"condition":{"test":"datum.c >= datum.o","value":"#1a8a1a"},"value":"#e8191b"}}},
{"data":{"values":[{"x":2.9,"y":15250,"t":"Volume"}]},
 "mark":{"type":"text","align":"left","baseline":"middle","fontSize":11,"fill":"#2e2e9e"},
 "encoding":{"x":{"field":"x","type":"quantitative","title":null},"y":{"field":"y","type":"quantitative","title":null},"text":{"field":"t"}}},
{"data":{"values":[{"x1":348.6,"x2":370.8,"y1":14426,"y2":16885}]},
 "mark":{"type":"rect","fill":"#f7a21c"},
 "encoding":{"x":{"field":"x1","type":"quantitative","title":null},"x2":{"field":"x2"},"y":{"field":"y1","type":"quantitative","title":null},"y2":{"field":"y2"}}},
{"data":{"values":[{"x":359.7,"y":15650,"t":"04/12/2013"}]},
 "mark":{"type":"text","align":"center","baseline":"middle","fontSize":12,"fill":"#3a2a10"},
 "encoding":{"x":{"field":"x","type":"quantitative","title":null},"y":{"field":"y","type":"quantitative","title":null},"text":{"field":"t"}}}
]
}
]
}
